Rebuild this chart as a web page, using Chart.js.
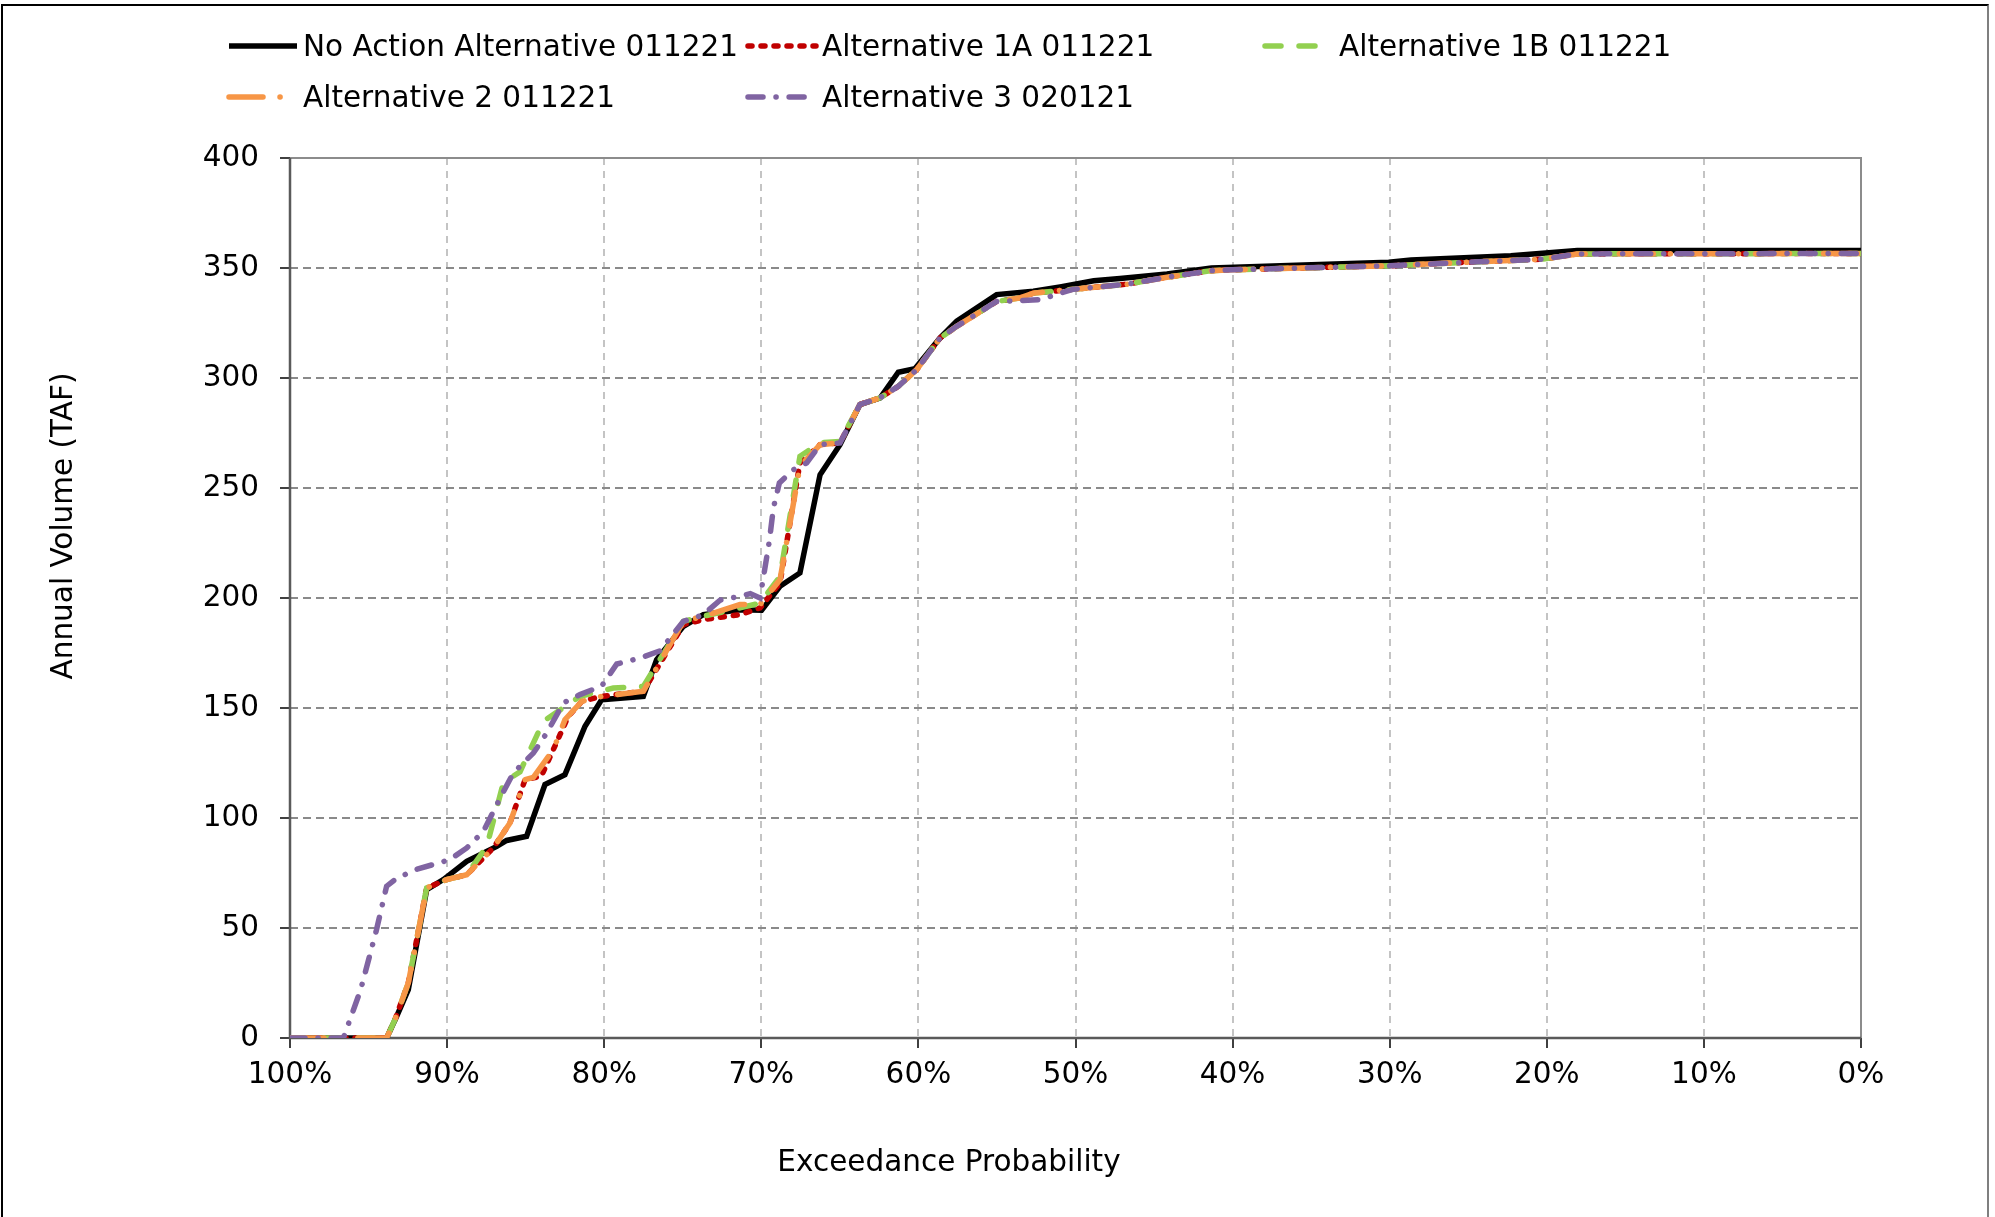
<!DOCTYPE html>
<html>
<head>
<meta charset="utf-8">
<script src="https://cdn.jsdelivr.net/npm/chart.js@4.4.1/dist/chart.umd.min.js"></script>
<style>
    html, body { margin: 0; padding: 0; background: #fff; }
    #wrap { position: relative; width: 1995px; height: 1217px; overflow: hidden;
            font-family: Verdana, "DejaVu Sans", sans-serif; }
    #frame { position: absolute; left: 1px; top: 4px; width: 1988px; height: 1230px;
             border: 2px solid #000; border-right-color: #7f7f7f; box-sizing: border-box; }
    #chart { position: absolute; left: 0; top: 0; }
    .leg { position: absolute; height: 30px; line-height: 30px; font-size: 29.5px; color: #000; white-space: nowrap; }
    .leg svg { position: absolute; top: 9px; }
</style>
</head>
<body>
<div id="wrap">
    <div id="frame"></div>
    <canvas id="chart" width="1995" height="1217"></canvas>
    <div id="legend"></div>
</div>
<script>
// Exceedance probability (%) and annual volume (TAF) per series
const noActionX = [100, 93.85, 93.21, 92.47, 91.3, 90.24, 88.75, 86.84, 86.21, 84.94, 83.77, 82.5, 81.22, 80.16, 77.51, 76.66, 74.96, 73.69, 71.36, 69.98, 68.81, 67.54, 66.26, 64.99, 63.72, 62.44, 61.28, 60.22, 58.62, 57.56, 55.02, 52.68, 50.98, 48.84, 47.17, 44.18, 41.35, 30.06, 28.64, 22.29, 18.06, 0];
const noActionY = [0, 0, 9.8, 22, 67.4, 72, 80.3, 87.1, 89.8, 91.7, 115.2, 119.7, 141.7, 153.8, 155.3, 172, 187.1, 192.4, 194.7, 194.4, 205.3, 211.4, 256, 269.7, 287.9, 290.9, 302.6, 304.2, 318.2, 325.8, 337.9, 339.4, 341.4, 344.2, 345.2, 347.3, 350, 352.6, 353.6, 355.6, 357.9, 357.9];

const alt1AX = [100, 93.85, 93.32, 92.47, 91.3, 90.03, 88.75, 87.06, 86.0, 85.04, 84.0, 82.3, 81.43, 80.16, 77.51, 74.96, 73.69, 71.36, 70.08, 68.81, 67.54, 66.26, 64.99, 63.72, 62.44, 61.28, 60.11, 58.62, 57.56, 55.02, 53.53, 52.68, 50.18, 46.65, 44.18, 41.35, 40, 30.06, 25.1, 20.3, 18.06, 0];
const alt1AY = [0, 0, 8.3, 25, 68.2, 72, 74.2, 86.4, 97.7, 117.4, 119, 146, 153, 155.3, 157.6, 187.9, 190.2, 192.4, 195.5, 206.8, 261.4, 269.7, 270.5, 288, 291, 296.2, 303.8, 318.2, 323.5, 334.8, 336.4, 338.6, 340.3, 342.7, 345.8, 348.8, 349.2, 351, 352.6, 354, 356.4, 356.6];

const alt1BX = [100, 93.85, 93.32, 92.47, 91.3, 90.03, 88.75, 87.48, 86.42, 85.36, 83.87, 83.03, 81.54, 79.42, 77.51, 74.96, 73.69, 71.36, 70.08, 68.81, 67.54, 66.26, 64.99, 63.72, 62.44, 61.28, 60.11, 58.62, 57.56, 55.02, 53.53, 52.68, 50.18, 46.65, 44.18, 41.35, 40, 30.06, 25.1, 20.3, 18.06, 0];
const alt1BY = [0, 0, 8.3, 25, 68.2, 72, 74.2, 87, 116, 121, 144, 148, 155.3, 159.1, 159.8, 189.4, 191.7, 195.5, 197.7, 209.8, 264.4, 270.5, 271.2, 288, 291, 296.2, 303.8, 318.2, 323.5, 334.8, 336.4, 338.6, 340.3, 342.7, 345.8, 348.8, 349.2, 351, 352.6, 354, 356.4, 356.6];

const alt2X = [100, 93.85, 93.32, 92.47, 91.3, 90.03, 88.75, 87.06, 86.0, 85.04, 84.51, 83.24, 82.5, 81.43, 80.16, 77.51, 74.96, 73.69, 71.36, 70.08, 68.81, 67.54, 66.26, 64.99, 63.72, 62.44, 61.28, 60.11, 58.62, 57.56, 55.02, 53.53, 52.68, 50.18, 46.65, 44.18, 41.35, 40, 30.06, 25.1, 20.3, 18.06, 0];
const alt2Y = [0, 0, 8.3, 25, 68.2, 72, 74.2, 86.4, 97.7, 117.4, 118.5, 131, 144.7, 153, 155.3, 157.6, 189.4, 191.7, 197, 197, 208.3, 259.8, 269.7, 270.5, 288, 291, 296.2, 303.8, 318.2, 323.5, 334.8, 336.4, 338.6, 340.3, 342.7, 345.8, 348.8, 349.2, 351, 352.6, 354, 356.4, 356.6];

const alt3X = [100, 96.6, 95.5, 94.5, 93.85, 93.32, 92.15, 89.82, 88.75, 87.69, 86.63, 85.78, 84.51, 83.66, 82.6, 81.54, 80.16, 79.2, 77.72, 76.45, 74.96, 73.69, 72.63, 71.36, 70.7, 70.08, 69.49, 69.23, 68.85, 67.96, 67.11, 66.26, 64.99, 63.72, 62.44, 61.28, 60.11, 58.62, 57.56, 55.02, 52.26, 50.18, 46.65, 44.18, 41.35, 40, 30.06, 25.1, 20.3, 18.06, 0];
const alt3Y = [0, 0, 22, 49, 69, 72, 76.2, 81.1, 86.4, 93.9, 109, 120.5, 129.5, 138.6, 152.3, 156.1, 160, 170, 172.7, 176, 189.4, 192.4, 199, 200.8, 202, 200, 225.8, 240.9, 252.3, 258.3, 261.4, 269.7, 270.5, 288, 291, 296.2, 303.8, 318.2, 323.5, 334.8, 335.6, 340.3, 342.7, 345.8, 348.8, 349.2, 351, 352.6, 354, 356.4, 356.6];

const yTicks = [0, 50, 100, 150, 200, 250, 300, 350, 400];
const xTicks = [0, 10, 20, 30, 40, 50, 60, 70, 80, 90, 100];

const seriesNames = ['No Action Alternative 011221', 'Alternative 1A 011221', 'Alternative 1B 011221', 'Alternative 2 011221', 'Alternative 3 020121'];
const seriesColors = ['#000000', '#C00000', '#92D050', '#F79646', '#8064A2'];

const FONT = 'Verdana, "DejaVu Sans", sans-serif';

function pts(xs, ys) {
    return xs.map((x, i) => ({ x: x, y: ys[i] }));
}

const styles = [
    { dash: [], width: 5.5, order: 5 },
    { dash: [4, 9], width: 5.5, order: 4 },
    { dash: [16, 18], width: 5.5, order: 3 },
    { dash: [34, 17, 0.1, 17], width: 5.5, order: 2 },
    { dash: [15, 13, 0.1, 13], width: 5.5, order: 1 }
];

const allData = [
    pts(noActionX, noActionY),
    pts(alt1AX, alt1AY),
    pts(alt1BX, alt1BY),
    pts(alt2X, alt2Y),
    pts(alt3X, alt3Y)
];

const datasets = allData.map((d, i) => ({
    label: seriesNames[i],
    data: d,
    borderColor: seriesColors[i],
    backgroundColor: seriesColors[i],
    borderWidth: styles[i].width,
    borderDash: styles[i].dash,
    borderCapStyle: i === 0 ? 'butt' : 'round',
    borderJoinStyle: 'miter',
    pointRadius: 0,
    tension: 0,
    fill: false,
    order: styles[i].order
}));

// plot frame (under the lines) and the two axis titles
const framePlugin = {
    id: 'framePlugin',
    beforeDatasetsDraw(chart) {
        const { ctx, chartArea: a } = chart;
        ctx.save();
        ctx.lineWidth = 2;
        ctx.strokeStyle = '#8c8c8c';
        ctx.beginPath();
        ctx.moveTo(a.left, a.top);
        ctx.lineTo(a.right, a.top);
        ctx.lineTo(a.right, a.bottom);
        ctx.stroke();
        ctx.lineWidth = 2.5;
        ctx.strokeStyle = '#5a5a5a';
        ctx.beginPath();
        ctx.moveTo(a.left, a.top);
        ctx.lineTo(a.left, a.bottom);
        ctx.lineTo(a.right, a.bottom);
        ctx.stroke();
        ctx.restore();
    },
    afterDraw(chart) {
        const ctx = chart.ctx;
        ctx.save();
        ctx.fillStyle = '#000';
        ctx.font = '29.5px ' + FONT;
        ctx.textAlign = 'center';
        ctx.textBaseline = 'middle';
        ctx.fillText('Exceedance Probability', 949, 1163);
        ctx.translate(64, 526);
        ctx.rotate(-Math.PI / 2);
        ctx.fillText('Annual Volume (TAF)', 0, 0);
        ctx.restore();
    }
};

new Chart(document.getElementById('chart'), {
    type: 'line',
    data: { datasets: datasets },
    options: {
        responsive: false,
        devicePixelRatio: 1,
        animation: false,
        layout: { padding: { top: 158, right: 134, bottom: 0, left: 0 } },
        plugins: { legend: { display: false }, tooltip: { enabled: false } },
        scales: {
            x: {
                type: 'linear',
                reverse: true,
                min: 0,
                max: 100,
                afterBuildTicks: (s) => { s.ticks = xTicks.map(v => ({ value: v })); },
                afterFit: (s) => { s.height = 179; },
                ticks: {
                    color: '#000',
                    font: { family: FONT, size: 29.5 },
                    padding: 10,
                    maxRotation: 0,
                    callback: (v) => v + '%'
                },
                grid: { color: '#C4C4C4', lineWidth: 2, tickLength: 10, tickColor: '#000', tickWidth: 1.5, tickBorderDash: [] },
                border: { display: false, dash: [7, 6] }
            },
            y: {
                min: 0,
                max: 400,
                afterBuildTicks: (s) => { s.ticks = yTicks.map(v => ({ value: v })); },
                afterFit: (s) => { s.width = 290; },
                ticks: {
                    color: '#000',
                    font: { family: FONT, size: 29.5 },
                    padding: 21
                },
                grid: { color: '#8a8a8a', lineWidth: 2, tickLength: 10, tickColor: '#000', tickWidth: 1.5, tickBorderDash: [] },
                border: { display: false, dash: [8, 5] }
            }
        }
    },
    plugins: [framePlugin]
});

// HTML legend laid out like the original two-row block
const legendPos = [
    { sx: 226, tx: 303, cy: 46 },
    { sx: 745, tx: 822, cy: 46 },
    { sx: 1262, tx: 1339, cy: 46 },
    { sx: 226, tx: 303, cy: 97 },
    { sx: 745, tx: 822, cy: 97 }
];
const legendDash = ['', '4 9', '16 18', '34 17 0.1 17', '15 13 0.1 13'];
const legend = document.getElementById('legend');
seriesNames.forEach((name, i) => {
    const p = legendPos[i];
    const w = p.tx - p.sx - 6;
    const cap = i === 0 ? 'butt' : 'round';
    const item = document.createElement('div');
    item.className = 'leg';
    item.style.left = p.sx + 'px';
    item.style.top = (p.cy - 15) + 'px';
    item.style.paddingLeft = (p.tx - p.sx) + 'px';
    item.innerHTML = `
        <svg width="${w + 6}" height="12" style="left:0">
            <line x1="3" y1="6" x2="${w}" y2="6" stroke="${seriesColors[i]}" stroke-width="5.5"
                  stroke-linecap="${cap}" ${legendDash[i] ? `stroke-dasharray="${legendDash[i]}"` : ''}></line>
        </svg>${name}`;
    legend.appendChild(item);
});
</script>
</body>
</html>
